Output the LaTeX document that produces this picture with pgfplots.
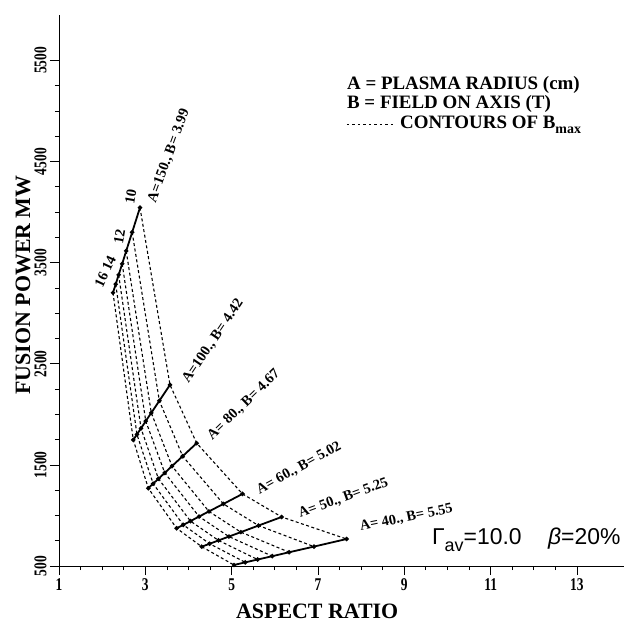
\documentclass[border=0pt]{standalone}
\usepackage{fontspec}
\setmainfont{Liberation Serif}
\newfontfamily\narrowserif{Liberation Serif}[FakeStretch=0.75]
\newfontfamily\sansf{Liberation Sans}
\usepackage{pgfplots}
\pgfplotsset{compat=1.18}
\begin{document}
\begin{tikzpicture}
\path[use as bounding box] (-59bp,-59bp) rectangle (565bp,566bp);
\begin{axis}[
  scale only axis, width=565bp, height=551bp,
  xmin=1, xmax=14.09, ymin=500, ymax=5950,
  axis x line=bottom, axis y line=left,
  axis line style={-, line width=0.8pt},
  xtick={1,3,...,13}, ytick={500,1500,...,5500},
  minor x tick num=3, minor y tick num=3,
  tick align=outside, major tick length=9bp, minor tick length=4bp,
  tick style={black, line width=0.8pt},
  scaled y ticks=false,
  /pgf/number format/1000 sep={},
  /pgf/number format/assume math mode=true,
  ticklabel style={font=\narrowserif\bfseries\fontsize{18}{18}\selectfont},
  yticklabel style={rotate=90, anchor=south},
  xlabel={ASPECT RATIO}, ylabel={FUSION POWER MW},
  label style={font=\bfseries\fontsize{22}{22}\selectfont},
  xlabel style={at={(axis description cs:0.457,-0.082)}, anchor=center},
  ylabel style={at={(axis description cs:-0.0637,0.51)}, anchor=center},
  clip=false,
]
% contours of B_max (dashed)
\addplot[black, line width=1.1pt, dash pattern=on 3pt off 2.5pt] coordinates {(2.251,3203) (2.721,1748) (3.069,1269) (3.726,873) (4.306,691) (5.054,510)};
\addplot[black, line width=1.1pt, dash pattern=on 3pt off 2.5pt] coordinates {(2.314,3287) (2.806,1802) (3.181,1314) (3.879,907) (4.491,720) (5.315,536)};
\addplot[black, line width=1.1pt, dash pattern=on 3pt off 2.5pt] coordinates {(2.382,3380) (2.900,1862) (3.304,1363) (4.046,944) (4.695,753) (5.602,564)};
\addplot[black, line width=1.1pt, dash pattern=on 3pt off 2.5pt] coordinates {(2.464,3489) (3.010,1933) (3.450,1421) (4.245,989) (4.936,791) (5.941,597)};
\addplot[black, line width=1.1pt, dash pattern=on 3pt off 2.5pt] coordinates {(2.557,3616) (3.138,2015) (3.618,1488) (4.473,1040) (5.214,835) (6.333,636)};
\addplot[black, line width=1.1pt, dash pattern=on 3pt off 2.5pt] coordinates {(2.695,3801) (3.325,2134) (3.865,1586) (4.809,1114) (5.622,900) (6.907,692)};
\addplot[black, line width=1.1pt, dash pattern=on 3pt off 2.5pt] coordinates {(2.876,4045) (3.571,2292) (4.190,1715) (5.251,1213) (6.159,985) (7.664,767)};
% constant A lines (solid)
\addplot[black, line width=1.8pt, mark=*, mark size=1.2pt] coordinates {(2.251,3203) (2.314,3287) (2.382,3380) (2.464,3489) (2.557,3616) (2.695,3801) (2.876,4045)};
\addplot[black, line width=1.8pt, mark=*, mark size=1.2pt] coordinates {(2.721,1748) (2.806,1802) (2.900,1862) (3.010,1933) (3.138,2015) (3.325,2134) (3.571,2292)};
\addplot[black, line width=1.8pt, mark=*, mark size=1.2pt] coordinates {(3.069,1269) (3.181,1314) (3.304,1363) (3.450,1421) (3.618,1488) (3.865,1586) (4.190,1715)};
\addplot[black, line width=1.8pt, mark=*, mark size=1.2pt] coordinates {(3.726,873) (3.879,907) (4.046,944) (4.245,989) (4.473,1040) (4.809,1114) (5.251,1213)};
\addplot[black, line width=1.8pt, mark=*, mark size=1.2pt] coordinates {(4.306,691) (4.491,720) (4.695,753) (4.936,791) (5.214,835) (5.622,900) (6.159,985)};
\addplot[black, line width=1.8pt, mark=*, mark size=1.2pt] coordinates {(5.054,510) (5.315,536) (5.602,564) (5.941,597) (6.333,636) (6.907,692) (7.664,767)};
% annotations
\begin{scope}[every node/.style={font=\bfseries\fontsize{14.5}{14.5}\selectfont, inner sep=1pt}]
\node[rotate=70, anchor=west] at (axis cs:3.147,4091) {A=150., B= 3.99};
\node[rotate=56, anchor=west] at (axis cs:3.919,2312) {A=100., B= 4.42};
\node[rotate=44, anchor=west] at (axis cs:4.475,1760) {A= 80., B= 4.67};
\node[rotate=29, anchor=west] at (axis cs:5.58,1236) {A= 60., B= 5.02};
\node[rotate=20, anchor=west] at (axis cs:6.536,1005) {A= 50., B= 5.25};
\node[rotate=11.5, anchor=west] at (axis cs:7.95,880) {A= 40., B= 5.55};
\node[rotate=80] at (axis cs:2.661,4157) {10};
\node[rotate=80] at (axis cs:2.397,3754) {12};
\node[rotate=65] at (axis cs:2.07,3414) {16 14};
\end{scope}
% legend text
\begin{scope}[every node/.style={font=\bfseries\fontsize{19}{19}\selectfont, inner sep=0pt, anchor=base west}]
\node at (axis cs:7.671,5218) {A = PLASMA RADIUS (cm)};
\node at (axis cs:7.671,5030) {B = FIELD ON AXIS (T)};
\node at (axis cs:8.899,4832) {CONTOURS OF B\raisebox{-0.3em}{\fontsize{14}{14}\selectfont max}};
\end{scope}
\draw[black, line width=0.9pt, dash pattern=on 2.5pt off 3pt] (axis cs:7.671,4866) -- (axis cs:8.75,4866);
\node[anchor=base west, inner sep=0pt, font=\sansf\fontsize{23}{23}\selectfont] at (axis cs:9.64,715) {Γ\raisebox{-0.3em}{\fontsize{18}{18}\selectfont av}=10.0};
\node[anchor=base west, inner sep=0pt, font=\sansf\fontsize{23}{23}\selectfont] at (axis cs:12.327,715) {{\itshape β}=20\%};
\end{axis}
\end{tikzpicture}
\end{document}
